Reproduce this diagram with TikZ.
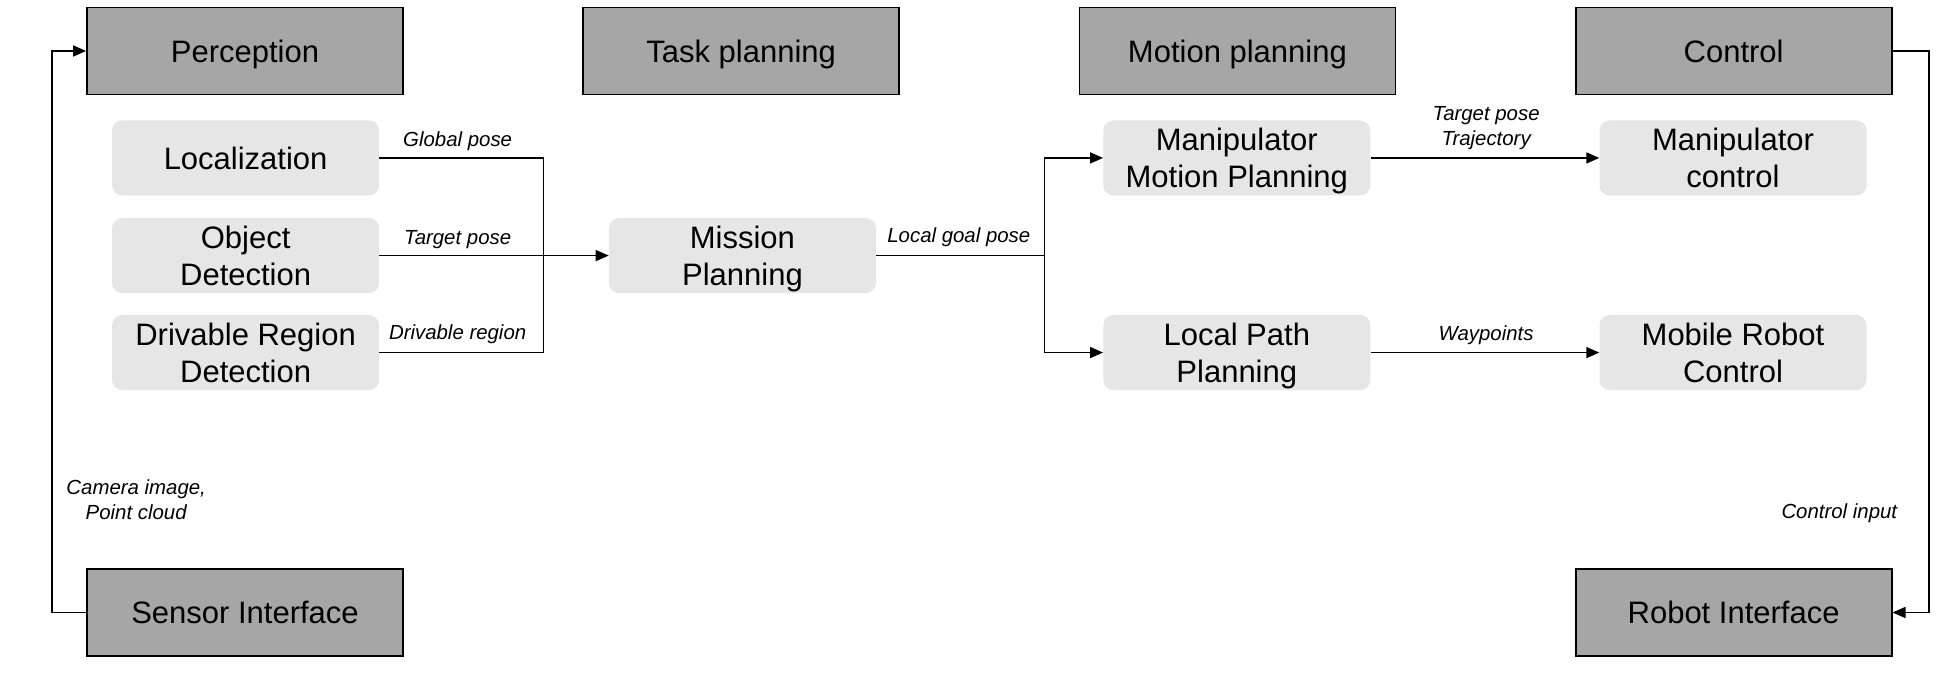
\documentclass[tikz,border=0pt]{standalone}
\usepackage{fontspec}
\setmainfont{Liberation Sans}
\usetikzlibrary{arrows.meta}
\definecolor{hdrgray}{HTML}{A6A6A6}
\definecolor{subgray}{HTML}{E6E6E6}
\begin{document}
\begin{tikzpicture}[x=1.2436pt,y=-1.2436pt,
  hdr/.style={draw=black,line width=1.8pt,fill=hdrgray,minimum width=316pt,minimum height=87pt,inner sep=0pt,text depth=0pt,font=\fontsize{31}{37}\selectfont},
  sub/.style={fill=subgray,rounded corners=10pt,minimum width=267pt,minimum height=75pt,inner sep=0pt,text depth=0pt,align=center,font=\fontsize{31}{37}\selectfont},
  lbl/.style={font=\fontsize{20.4}{25}\selectfont\itshape,align=center,inner sep=0pt,text depth=0pt},
  conn/.style={line width=1.6pt},
  arr/.style={conn,-{Triangle[length=13pt,width=11pt]}}]
\useasboundingbox (0,0) rectangle (1568,543);
% header boxes
\node[hdr] (perc) at (197,41) {Perception};
\node[hdr] (task) at (596,41) {Task planning};
\node[hdr] (mot) at (995,41) {Motion planning};
\node[hdr] (ctrl) at (1394,41) {Control};
\node[hdr] (sens) at (197,492.5) {Sensor Interface};
\node[hdr] (rob) at (1394,492.5) {Robot Interface};
% sub boxes
\node[sub] (loc) at (197.5,127) {Localization};
\node[sub] (obj) at (197.5,205.5) {Object\\Detection};
\node[sub] (drv) at (197.5,283.5) {Drivable Region\\Detection};
\node[sub] (mis) at (597,205.5) {Mission\\Planning};
\node[sub] (mmp) at (994.5,127) {Manipulator\\Motion Planning};
\node[sub] (lpp) at (994.5,283.5) {Local Path\\Planning};
\node[sub] (mc) at (1393.5,127) {Manipulator\\control};
\node[sub] (mrc) at (1393.5,283.5) {Mobile Robot\\Control};
% junction coordinates
\coordinate (j1) at (437,205.5);
\coordinate (j2) at (840,205.5);
\coordinate (cr) at (1551,41);
\coordinate (sl) at (42,492.5);
% connectors
\draw[conn] (loc.east) -| (j1);
\draw[conn] (drv.east) -| (j1);
\draw[arr] (obj.east) -- (mis.west);
\draw[conn] (mis.east) -- (j2);
\draw[arr] (j2) |- (mmp.west);
\draw[arr] (j2) |- (lpp.west);
\draw[arr] (mmp.east) -- (mc.west);
\draw[arr] (lpp.east) -- (mrc.west);
\draw[arr] (ctrl.east) -- (cr) |- (rob.east);
\draw[arr] (sens.west) -- (sl) |- (perc.west);
% labels
\node[lbl] (l1) at (368,112) {Global pose};
\node[lbl] (l2) at (368,191) {Target pose};
\node[lbl] (l3) at (368,267) {Drivable region};
\node[lbl] (l4) at (771,189) {Local goal pose};
\node[lbl] (l5) at (1195,101) {Target pose\\Trajectory};
\node[lbl] (l6) at (1195,268) {Waypoints};
\node[lbl] (l7) at (109.5,401.5) {Camera image,\\Point cloud};
\node[lbl] (l8) at (1479,411) {Control input};
\end{tikzpicture}
\end{document}
